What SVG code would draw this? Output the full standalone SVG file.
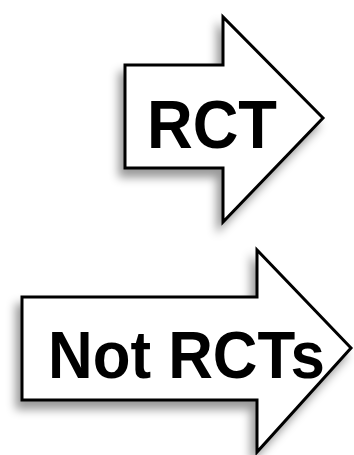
<svg xmlns="http://www.w3.org/2000/svg" width="354" height="455" viewBox="0 0 354 455">
<style>
.arrow{fill:#fff;stroke:#000;stroke-width:3;stroke-linejoin:miter;filter:url(#sh)}
.lbl{font-family:"Liberation Sans",Arial,sans-serif;font-weight:bold;fill:#000}
</style>
<defs>
<filter id="sh" x="-20%" y="-20%" width="140%" height="150%">
<feDropShadow dx="-5" dy="8" stdDeviation="5" flood-color="#000" flood-opacity="0.4"/>
</filter>
</defs>
<rect width="354" height="455" fill="#fff"/>
<g id="rct">
<path class="arrow" d="M125,65 L223,65 L223,17 L323,118 L223,222 L223,168 L125,168 Z"/>
<text class="lbl" x="147" y="148" font-size="69" textLength="130" lengthAdjust="spacingAndGlyphs">RCT</text>
</g>
<g id="not-rcts">
<path class="arrow" d="M22,297 L257,297 L257,250 L351,348 L257,452 L257,400 L22,400 Z"/>
<text class="lbl" x="48" y="378" font-size="67" textLength="277" lengthAdjust="spacingAndGlyphs">Not RCTs</text>
</g>
<g id="connectors"/>
</svg>
